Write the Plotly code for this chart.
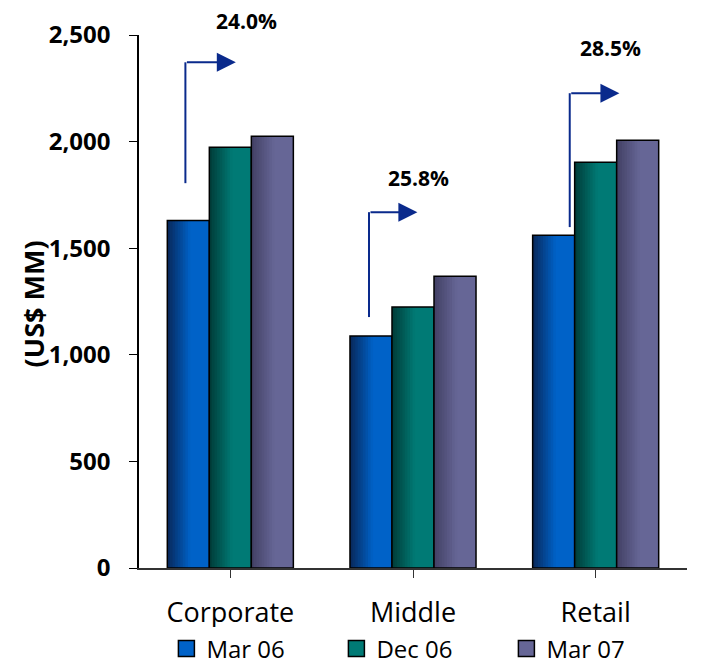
import plotly.graph_objects as go

categories = ["Corporate", "Middle", "Retail"]
series_names = ["Mar 06", "Dec 06", "Mar 07"]
mar06 = [1630, 1088, 1561]
dec06 = [1973, 1224, 1903]
mar07 = [2025, 1369, 2006]
growth_labels = ["24.0%", "25.8%", "28.5%"]
y_ticks = [0, 500, 1000, 1500, 2000, 2500]

values = [mar06, dec06, mar07]
# gradient colours (dark edge -> light body) per series
grad = [((8, 40, 90), (0, 98, 200)),
        ((0, 60, 56), (0, 122, 117)),
        ((66, 64, 100), (102, 102, 150))]

# arrow geometry: (x start, x head, y start, y top) in data units
arrows = [(-0.246, 0.03, 1805, 2372),
          (0.759, 1.024, 1177, 1669),
          (1.858, 2.13, 1599, 2227)]
label_pos = [(0.09, 2568), (1.03, 1828), (2.08, 2440)]

font = "Open Sans"
xi = list(range(len(categories)))
bw = 0.23
fig = go.Figure()
ngrad = 9
gfrac = 0.55
for k, (name, vals) in enumerate(zip(series_names, values)):
    left = -1.5 * bw + k * bw
    c0, c1 = grad[k]
    sw = bw * gfrac / ngrad
    for s in range(ngrad):
        t = (s + 0.5) / ngrad
        col = tuple(int(round(c0[i] + (c1[i] - c0[i]) * t)) for i in range(3))
        fig.add_trace(go.Bar(x=xi, y=vals, width=sw * 1.6, offset=left + s * sw,
                             marker=dict(color="rgb(%d,%d,%d)" % col, line=dict(width=0)),
                             showlegend=False, hoverinfo="skip"))
    fig.add_trace(go.Bar(x=xi, y=vals, width=bw * (1 - gfrac), offset=left + bw * gfrac,
                         marker=dict(color="rgb(%d,%d,%d)" % c1, line=dict(width=0)),
                         showlegend=False, hoverinfo="skip"))
    fig.add_trace(go.Bar(x=xi, y=vals, width=bw, offset=left,
                         marker=dict(color="rgba(0,0,0,0)",
                                     line=dict(color="black", width=1.5)),
                         showlegend=False, hoverinfo="skip"))
    # legend entry
    fig.add_trace(go.Scatter(x=[None], y=[None], name=name, mode="markers",
                             marker=dict(symbol="square", size=16,
                                         color="rgb(%d,%d,%d)" % c1,
                                         line=dict(color="black", width=1.5)),
                             showlegend=True))

navy = "#0a2a8c"
for (x0, x1, y0, y1), lab, (lx, ly) in zip(arrows, growth_labels, label_pos):
    fig.add_shape(type="line", x0=x0, x1=x0, y0=y0, y1=y1, xref="x", yref="y",
                  line=dict(color=navy, width=2))
    fig.add_annotation(x=x1, y=y1, ax=x0, ay=y1, axref="x", ayref="y", xref="x", yref="y",
                       text="", showarrow=True, arrowhead=2, arrowsize=1.9,
                       arrowwidth=2, arrowcolor=navy)
    fig.add_annotation(x=lx, y=ly / 2500, xref="x", yref="paper", text="<b>%s</b>" % lab,
                       showarrow=False, xanchor="center", yanchor="middle",
                       font=dict(family=font, size=21, color="black"))

fig.add_annotation(x=-0.193, y=0.495, xref="paper", yref="paper", text="<b>(US$ MM)</b>",
                   textangle=-90, showarrow=False, xanchor="center", yanchor="middle",
                   font=dict(family=font, size=27, color="black"))

# page body has an 8px margin: shrink the figure so pixel positions line up
fig.update_layout(
    width=695, height=657,
    margin=dict(l=131, r=16, t=27, b=97, autoexpand=False),
    paper_bgcolor="white", plot_bgcolor="white",
    barmode="overlay",
    showlegend=True,
    legend=dict(orientation="h", x=0.05, y=-0.152, xanchor="left", yanchor="middle",
                font=dict(family=font, size=24, color="black"),
                entrywidth=125, entrywidthmode="pixels", itemclick=False,
                itemsizing="trace"),
    xaxis=dict(tickmode="array", tickvals=xi, ticktext=categories, range=[-0.5, 2.5],
               showline=True, linecolor="#333", linewidth=1.5, ticks="outside",
               tickson="boundaries", ticklen=8, tickcolor="#333",
               tickfont=dict(family=font, size=27, color="black"),
               ticklabelstandoff=12, showgrid=False, zeroline=False, automargin=False),
    yaxis=dict(range=[0, 2500], tickvals=y_ticks, tickformat=",d",
               showline=True, linecolor="black", linewidth=1.5, ticks="outside",
               ticklen=8, tickcolor="black",
               tickfont=dict(family=font, size=24, color="black", weight="bold"),
               ticklabelstandoff=14, showgrid=False, zeroline=False, automargin=False),
)
fig.write_html("out.html")
